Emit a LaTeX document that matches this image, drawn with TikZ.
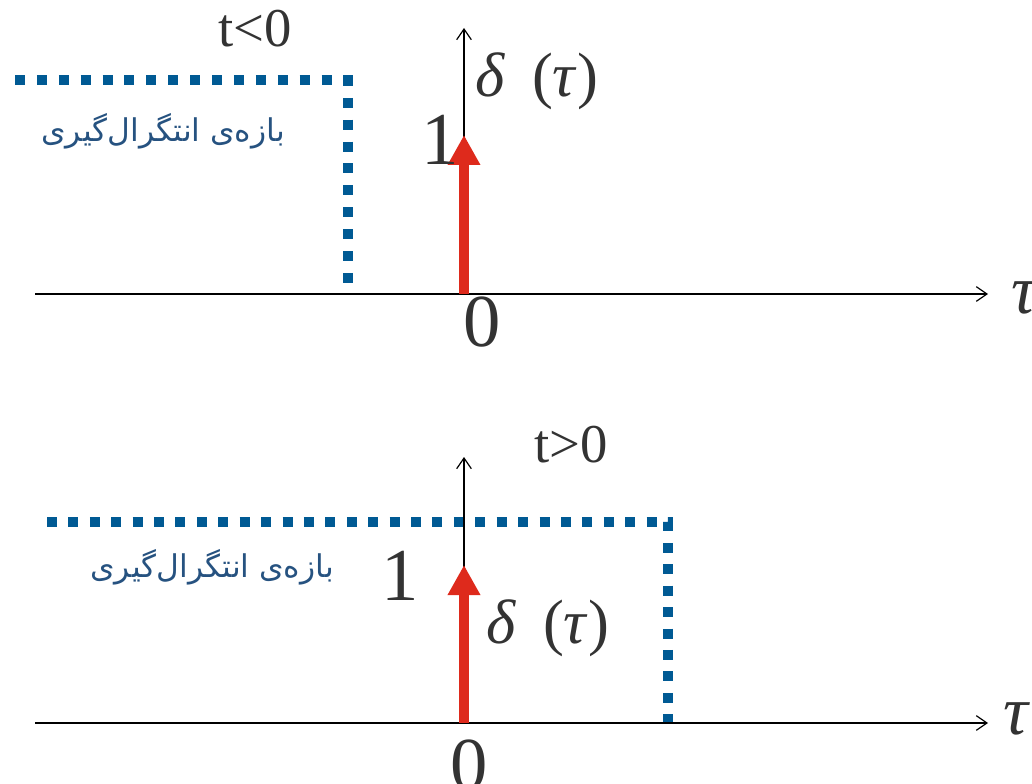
\documentclass[tikz,border=0pt]{standalone}
\usepackage{fontspec}
\setmainfont{Liberation Serif}
\newfontfamily\farsifont[Script=Arabic]{DejaVu Sans}
\TeXXeTstate=1
\usetikzlibrary{positioning,arrows.meta}
\definecolor{figblue}{RGB}{0,90,148}
\definecolor{figtxtblue}{RGB}{38,82,128}
\definecolor{figred}{RGB}{222,42,28}
\definecolor{figdark}{RGB}{51,51,51}
\tikzset{
  axis/.style={-{Straight Barb[length=8pt,width=11pt]},line width=0.9pt},
  impulse/.style={-{Triangle[length=22.5pt,width=23pt]},line width=7.5pt,figred},
  interval/.style={figblue,line width=7.5pt,dash pattern=on 7.5pt off #1},
  numlbl/.style={font=\fontsize{56}{56}\selectfont,text=figdark,inner sep=0pt},
  fnlbl/.style={font=\fontsize{47}{47}\selectfont,text=figdark,inner sep=0pt},
  condlbl/.style={font=\fontsize{41}{41}\selectfont,text=figdark,inner sep=0pt},
  varlbl/.style={font=\fontsize{52}{52}\selectfont\itshape,text=figdark,inner sep=0pt},
  farsi/.style={font=\farsifont\fontsize{23.5}{23.5}\selectfont,text=figtxtblue,inner sep=0pt},
}

\begin{document}
\begin{tikzpicture}[x=0.75pt,y=-0.75pt]
\useasboundingbox (0,0) rectangle (1032,784);

% t<0
\coordinate (o1) at (464,294);
\coordinate (l1) at (35,294);
\coordinate (r1) at (988,294);
\coordinate (u1) at (464,28);
\coordinate (p1) at (464,135);
\coordinate (a1) at (15,80);
\coordinate (b1) at (347.5,80);
\coordinate (c1) at (347.5,283);

\draw[interval=8.92pt] (a1) -- (b1) -- (c1);
\draw[axis] (l1) -- (r1);
\draw[axis] (o1) -- (u1);
\draw[impulse] (o1) -- (p1);

\node[condlbl] (cond1) at (255,29) {t<0};
\node[fnlbl] (fn1) at (537,81) {\textit{δ}\, (\textit{τ})};
\node[numlbl] (one1) at (440,140) {1};
\node[numlbl] (zero1) at (482,322) {0};
\node[varlbl] (tau1) at (1024,298) {τ};
\node[farsi] (int1) at (163,131) {\beginR بازه‌ی انتگرال‌گیری\endR};

% t>0
\coordinate (o2) at (464,723);
\coordinate (l2) at (35,723);
\coordinate (r2) at (988,723);
\coordinate (u2) at (464,457);
\coordinate (p2) at (464,565);
\coordinate (a2) at (47,521.5);
\coordinate (b2) at (668,521.5);
\coordinate (c2) at (668,724);

\draw[interval=8.56pt] (a2) -- (b2) -- (c2);
\draw[axis] (l2) -- (r2);
\draw[axis] (o2) -- (u2);
\draw[impulse] (o2) -- (p2);

\node[condlbl] (cond2) at (571,445) {t>0};
\node[fnlbl] (fn2) at (548,628) {\textit{δ}\, (\textit{τ})};
\node[numlbl] (one2) at (400,576) {1};
\node[numlbl] (zero2) at (469,765) {0};
\node[varlbl] (tau2) at (1016,719) {τ};
\node[farsi] (int2) at (212,567) {\beginR بازه‌ی انتگرال‌گیری\endR};

\end{tikzpicture}
\end{document}
